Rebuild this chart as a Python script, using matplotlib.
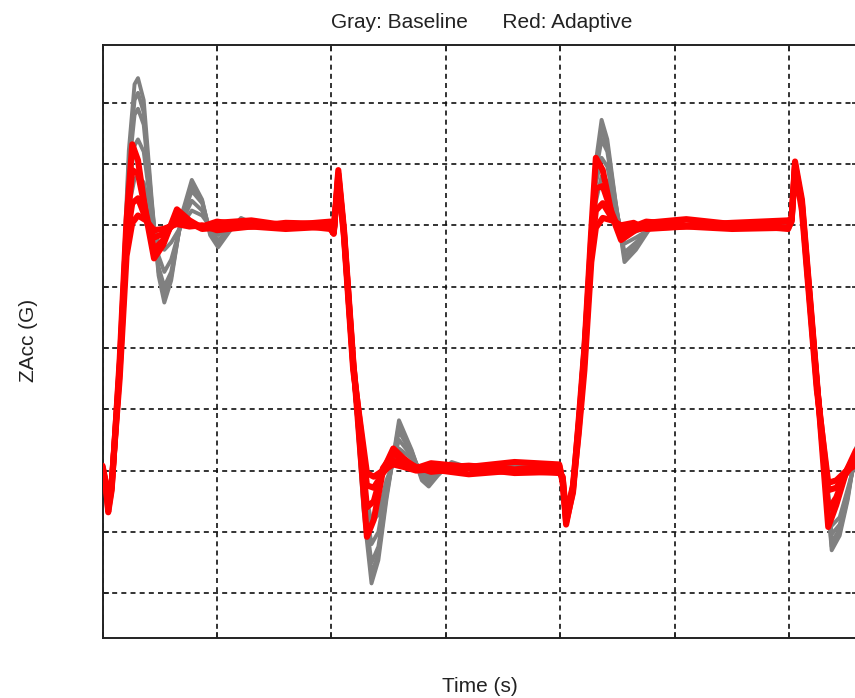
import matplotlib
matplotlib.use("Agg")
import matplotlib.pyplot as plt

# ---------------- data ----------------
TITLE = "Gray: Baseline      Red: Adaptive"
XLABEL = "Time (s)"
YLABEL = "ZAcc (G)"

x_ticks = [0, 1, 2, 3, 4, 5, 6]
y_ticks = [-2.0, -1.5, -1.0, -0.5, 0.0, 0.5, 1.0, 1.5, 2.0]

# sample times for the adaptive (red) traces, s
t_red = [0.00, 0.03, 0.05, 0.08, 0.15, 0.21, 0.26, 0.31, 0.38, 0.45, 0.53, 0.65, 0.76, 0.87, 1.00, 1.30, 1.60, 1.99,
         2.02, 2.06, 2.11, 2.19, 2.31, 2.37, 2.45, 2.54, 2.63, 2.74, 2.87, 3.20, 3.60, 3.99,
         4.02, 4.05, 4.11, 4.16, 4.21, 4.27, 4.31, 4.37, 4.45, 4.53, 4.64, 4.75, 5.10, 5.50, 5.99,
         6.02, 6.05, 6.11, 6.24, 6.34, 6.41, 6.50, 6.59, 6.72]

red_a = [-0.98, -1.12, -1.34, -1.16, -0.10, 1.04, 1.66, 1.53, 1.08, 0.73, 0.84, 1.13, 1.04, 0.98, 1.02, 1.04, 1.00, 1.03,
         0.95, 1.45, 0.96, -0.10, -1.54, -1.40, -1.00, -0.82, -0.90, -0.98, -0.94, -0.97, -0.93, -0.95,
         -1.08, -1.44, -1.16, -0.59, 0.00, 0.96, 1.55, 1.45, 1.08, 0.88, 0.95, 1.02, 1.05, 1.01, 1.03,
         1.06, 1.52, 1.21, -0.26, -1.46, -1.28, -1.00, -0.82, -0.88]
red_b = [-0.96, -1.10, -1.30, -1.12, -0.15, 0.95, 1.45, 1.42, 1.10, 0.80, 0.88, 1.08, 1.02, 0.97, 0.98, 0.99, 1.01, 0.97,
         0.93, 1.42, 0.92, -0.12, -1.30, -1.25, -0.98, -0.86, -0.92, -0.97, -1.01, -0.98, -1.02, -1.01,
         -1.06, -1.38, -1.12, -0.62, -0.05, 0.90, 1.30, 1.32, 1.10, 0.92, 0.96, 0.98, 0.99, 1.01, 0.97,
         1.04, 1.48, 1.18, -0.28, -1.32, -1.22, -1.00, -0.86, -0.90]
red_c = [-1.00, -1.14, -1.32, -1.14, -0.18, 0.88, 1.18, 1.22, 1.05, 0.90, 0.93, 1.03, 1.00, 0.99, 1.03, 0.99, 1.02, 1.01,
         0.96, 1.40, 0.94, -0.14, -1.12, -1.14, -1.02, -0.92, -0.95, -0.99, -0.98, -0.96, -0.99, -0.96,
         -1.10, -1.42, -1.18, -0.66, -0.10, 0.80, 1.12, 1.18, 1.06, 0.97, 0.99, 1.03, 1.00, 1.02, 1.04,
         1.05, 1.50, 1.16, -0.30, -1.16, -1.14, -1.02, -0.90, -0.93]
red_d = [-0.97, -1.11, -1.28, -1.10, -0.25, 0.75, 1.02, 1.08, 1.04, 0.96, 0.97, 1.01, 0.99, 1.00, 0.96, 0.99, 0.97, 0.99,
         0.94, 1.38, 0.90, -0.18, -1.02, -1.05, -1.00, -0.95, -0.97, -1.00, -0.99, -1.03, -1.00, -1.02,
         -1.05, -1.36, -1.14, -0.70, -0.18, 0.70, 0.98, 1.06, 1.04, 1.00, 1.02, 0.97, 0.99, 0.97, 0.98,
         1.03, 1.46, 1.12, -0.34, -1.10, -1.08, -1.00, -0.95, -0.96]

# sample times for the baseline (gray) traces, s
t_gray = [0.00, 0.03, 0.05, 0.08, 0.16, 0.23, 0.28, 0.31, 0.36, 0.43, 0.49, 0.54, 0.60, 0.69, 0.78, 0.87, 0.94, 1.01,
          1.11, 1.21, 1.35, 1.56, 2.00,
          2.03, 2.06, 2.11, 2.20, 2.28, 2.35, 2.41, 2.48, 2.59, 2.70, 2.79, 2.85, 2.93, 3.05, 3.22, 3.66, 3.99,
          4.02, 4.05, 4.11, 4.17, 4.23, 4.30, 4.36, 4.41, 4.48, 4.56, 4.66, 4.80, 5.23, 5.99,
          6.02, 6.05, 6.11, 6.24, 6.37, 6.44, 6.51, 6.59, 6.72]

gray_a = [-0.98, -1.12, -1.34, -1.16, 0.15, 1.61, 2.15, 2.20, 2.02, 1.21, 0.59, 0.37, 0.55, 1.08, 1.37, 1.21, 0.92, 0.82,
          0.95, 1.06, 1.00, 1.00, 1.00,
          0.95, 1.45, 1.00, -0.26, -1.32, -1.92, -1.73, -1.24, -0.59, -0.83, -1.08, -1.13, -1.04, -0.93, -0.98, -0.96, -0.98,
          -1.08, -1.44, -1.08, -0.42, 0.39, 1.45, 1.86, 1.70, 1.21, 0.70, 0.80, 1.00, 1.00, 1.00,
          1.06, 1.52, 1.21, -0.18, -1.65, -1.53, -1.24, -0.77, -0.75]
gray_b = [-0.97, -1.11, -1.32, -1.14, 0.10, 1.45, 1.90, 1.95, 1.82, 1.15, 0.66, 0.50, 0.62, 1.05, 1.28, 1.18, 0.95, 0.88,
          0.96, 1.04, 1.01, 0.99, 1.01,
          0.94, 1.44, 0.98, -0.28, -1.25, -1.75, -1.62, -1.18, -0.68, -0.86, -1.05, -1.08, -1.02, -0.95, -0.97, -0.99, -0.97,
          -1.07, -1.42, -1.10, -0.45, 0.35, 1.38, 1.70, 1.60, 1.18, 0.78, 0.86, 0.99, 1.01, 0.99,
          1.05, 1.50, 1.19, -0.20, -1.58, -1.48, -1.20, -0.80, -0.78]
gray_c = [-0.99, -1.13, -1.33, -1.15, 0.05, 1.30, 1.65, 1.70, 1.60, 1.10, 0.75, 0.62, 0.72, 1.02, 1.20, 1.12, 0.97, 0.92,
          0.98, 1.02, 0.99, 1.01, 0.99,
          0.95, 1.43, 0.97, -0.30, -1.18, -1.60, -1.50, -1.12, -0.75, -0.88, -1.02, -1.05, -1.00, -0.96, -0.98, -0.97, -0.99,
          -1.09, -1.43, -1.12, -0.48, 0.30, 1.30, 1.55, 1.48, 1.15, 0.85, 0.90, 0.98, 1.00, 1.01,
          1.04, 1.49, 1.17, -0.22, -1.52, -1.44, -1.18, -0.85, -0.82]
gray_d = [-0.98, -1.12, -1.31, -1.13, 0.00, 1.15, 1.38, 1.40, 1.35, 1.05, 0.85, 0.80, 0.86, 1.00, 1.12, 1.08, 0.99, 0.95,
          0.99, 1.01, 1.00, 0.98, 1.00,
          0.94, 1.42, 0.96, -0.32, -1.10, -1.42, -1.36, -1.08, -0.82, -0.90, -1.00, -1.03, -0.99, -0.97, -0.99, -0.98, -0.98,
          -1.06, -1.40, -1.14, -0.52, 0.22, 1.15, 1.40, 1.36, 1.10, 0.92, 0.95, 1.00, 0.99, 1.00,
          1.03, 1.47, 1.15, -0.25, -1.45, -1.38, -1.15, -0.88, -0.85]
gray_e = [-0.98, -1.12, -1.33, -1.15, 0.12, 1.52, 2.02, 2.08, 1.92, 1.18, 0.62, 0.44, 0.58, 1.06, 1.32, 1.20, 0.94, 0.85,
          0.96, 1.05, 1.00, 1.00, 1.00,
          0.95, 1.44, 0.99, -0.27, -1.28, -1.84, -1.68, -1.21, -0.63, -0.84, -1.06, -1.10, -1.03, -0.94, -0.98, -0.97, -0.98,
          -1.08, -1.43, -1.09, -0.44, 0.37, 1.41, 1.78, 1.65, 1.20, 0.74, 0.83, 1.00, 1.00, 1.00,
          1.05, 1.51, 1.20, -0.19, -1.62, -1.50, -1.22, -0.78, -0.76]

gray_traces = [gray_a, gray_e, gray_b, gray_c, gray_d]
red_traces = [red_a, red_b, red_c, red_d]

# ---------------- figure ----------------
W, H, DPI = 855, 698, 100
fig = plt.figure(figsize=(W / DPI, H / DPI), dpi=DPI)
plt.rcParams['font.family'] = ['Liberation Sans', 'DejaVu Sans']

left_px, right_px, top_px, bottom_px = 102.5, 858.0, 45.0, 638.0
ax = fig.add_axes([left_px / W, 1 - bottom_px / H, (right_px - left_px) / W, (bottom_px - top_px) / H])

for tr in gray_traces:
    ax.plot(t_gray, tr, color='#808080', lw=2.8, solid_joinstyle='round', solid_capstyle='round', zorder=2)
for tr in red_traces:
    ax.plot(t_red, tr, color='#ff0000', lw=4.4, solid_joinstyle='round', solid_capstyle='round', zorder=3)

ax.set_xlim(0, 6.6)
ax.set_ylim(-2.365, 2.47)
ax.set_xticks(x_ticks)
ax.set_yticks(y_ticks)
ax.set_xticklabels([])
ax.set_yticklabels([])
ax.tick_params(direction='in', length=4, width=1.2, color='#222222', top=True, bottom=True, left=True, right=True)
ax.grid(True, color='#111111', linestyle=(0, (3, 2.5)), linewidth=1.2, zorder=1)
ax.set_axisbelow(True)
for s in ax.spines.values():
    s.set_linewidth(1.4)
    s.set_color('#222222')

fig.text(482 / W, 1 - 23 / H, TITLE, ha='center', va='center', fontsize=15, color='#222222')
fig.text(480 / W, 1 - 687 / H, XLABEL, ha='center', va='center', fontsize=15, color='#222222')
fig.text(29 / W, 1 - 340 / H, YLABEL, ha='center', va='center', rotation=90, fontsize=15, color='#222222')

fig.savefig('out.png', dpi=DPI)
